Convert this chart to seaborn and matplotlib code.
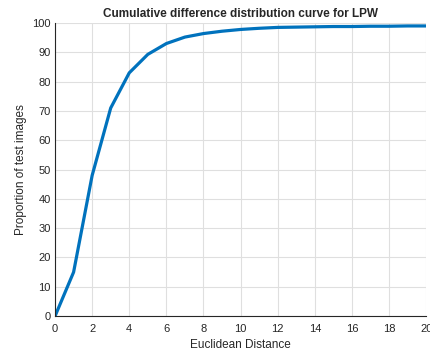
import pandas as pd
import matplotlib
matplotlib.use('Agg')
import matplotlib.pyplot as plt
import seaborn as sns

# Valores
distancia = [0, 1, 2, 3, 4, 5, 6, 7, 8, 9, 10, 11, 12, 13, 14, 15, 16, 17, 18, 19, 20]
proporcion = [0, 15, 48, 71, 83, 89.3, 93, 95.2, 96.4, 97.2, 97.8, 98.2, 98.5, 98.6, 98.7,
              98.8, 98.8, 98.9, 98.9, 99.0, 99.0]

data = pd.DataFrame({'Euclidean Distance': distancia, 'Proportion of test images': proporcion})

sns.set_style('whitegrid')
plt.rcParams['font.family'] = ['Liberation Sans', 'DejaVu Sans']

fig = plt.figure(figsize=(4.3, 3.54), dpi=100)
ax = fig.add_axes([0.128, 0.107, 0.863, 0.828])

sns.lineplot(x='Euclidean Distance', y='Proportion of test images', data=data,
             color='#0072BD', linewidth=2.3, ax=ax)

ax.set_xlim(0, 20)
ax.set_ylim(0, 100)
ax.set_xticks(range(0, 21, 2))
ax.set_yticks(range(0, 101, 10))
ax.set_title('Cumulative difference distribution curve for LPW', fontsize=8.5,
             fontweight='bold', pad=4)
ax.set_xlabel('Euclidean Distance', fontsize=8.5, color='#262626', labelpad=3)
ax.set_ylabel('Proportion of test images', fontsize=8.5, color='#262626', labelpad=4)

ax.grid(True, color='#dfdfdf', linewidth=0.8)
for lado in ['top', 'right']:
    ax.spines[lado].set_visible(False)
for lado in ['left', 'bottom']:
    ax.spines[lado].set_color('#262626')
    ax.spines[lado].set_linewidth(0.8)
ax.tick_params(direction='in', length=3, width=0.6, colors='#262626', labelsize=8, pad=3)
ax.tick_params(axis='x', pad=6)
ax.set_axisbelow(True)

fig.savefig('out.png', dpi=100)
